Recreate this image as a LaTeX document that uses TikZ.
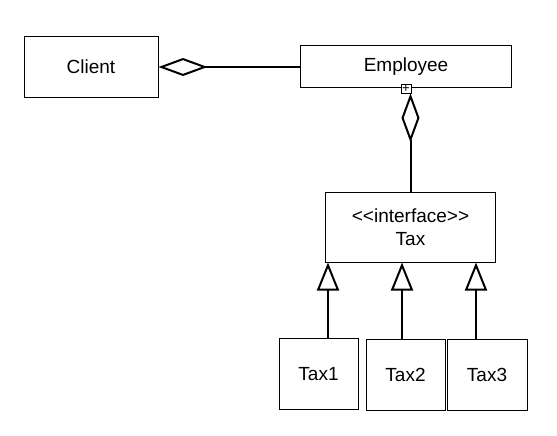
\documentclass[tikz,border=0pt]{standalone}
\usepackage{fontspec}
\setmainfont{Liberation Sans}
\usepackage{tikz}
\usetikzlibrary{arrows.meta}

\begin{document}
\begin{tikzpicture}[
  x=1pt, y=-1pt,
  every node/.style={font=\fontsize{19}{23}\selectfont},
  cls/.style={draw, line width=1pt, fill=white, align=center, inner sep=0pt},
  link/.style={line width=2pt},
  agg/.style={link, {Diamond[open, length=49pt, width=18pt, line width=2pt]}-},
  inh/.style={link, -{Triangle[open, length=28pt, width=22pt, line width=2pt]}}
]
\useasboundingbox (0,0) rectangle (557,436);

\node[cls, minimum width=134pt, minimum height=60pt] (client) at (91,67) {Client};
\node[cls, minimum width=211pt, minimum height=42pt] (emp) at (406,67) {Employee};
\node[cls, minimum width=170pt, minimum height=70pt] (tax) at (410.5,227) {<{}<interface>{}>\\Tax};
\node[cls, minimum width=79pt, minimum height=71pt] (tax1) at (318.5,374) {Tax1};
\node[cls, minimum width=79pt, minimum height=71pt] (tax2) at (405.5,374.5) {Tax2};
\node[cls, minimum width=80pt, minimum height=71pt] (tax3) at (487,374.5) {Tax3};
\node[draw, line width=0.8pt, fill=white, minimum width=10pt, minimum height=9pt, inner sep=0pt,
  font=\fontsize{13}{13}\selectfont] (own) at (emp.south) {+};

\draw[agg] (client) -- (emp);
\draw[agg] (own.south -| tax.north) -- (tax.north);

\draw[inh] ([xshift=9.5pt]tax1.north) -- ([xshift=9.5pt]tax1.north |- tax.south);
\draw[inh] ([xshift=-3.5pt]tax2.north) -- ([xshift=-3.5pt]tax2.north |- tax.south);
\draw[inh] ([xshift=-11pt]tax3.north) -- ([xshift=-11pt]tax3.north |- tax.south);
\end{tikzpicture}
\end{document}
